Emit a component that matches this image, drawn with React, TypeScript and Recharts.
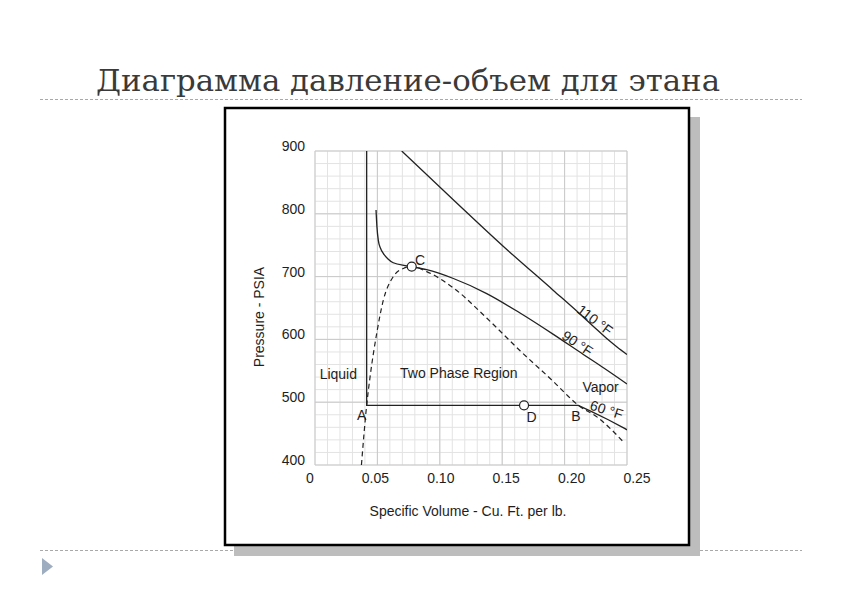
import { ComposedChart, Line, XAxis, YAxis, CartesianGrid, ReferenceLine, ReferenceDot } from 'recharts';

// axis ticks (minor grid every 0.01 / 20 psi, labels on the majors)
const xTicks = [0, 0.01, 0.02, 0.03, 0.04, 0.05, 0.06, 0.07, 0.08, 0.09, 0.1, 0.11, 0.12, 0.13, 0.14, 0.15, 0.16, 0.17, 0.18, 0.19, 0.2, 0.21, 0.22, 0.23, 0.24, 0.25];
const yTicks = [400, 420, 440, 460, 480, 500, 520, 540, 560, 580, 600, 620, 640, 660, 680, 700, 720, 740, 760, 780, 800, 820, 840, 860, 880, 900];
const xMajor = [0, 0.05, 0.1, 0.15, 0.2, 0.25];
const xMajorText = ['0', '0.05', '0.10', '0.15', '0.20', '0.25'];
const yMajor = [400, 500, 600, 700, 800, 900];

// 60 °F isotherm: liquid branch, A-B plateau, vapor branch
const iso60V = [0.0414, 0.0414, 0.211, 0.2217, 0.235, 0.2484, 0.25];
const iso60P = [900, 495, 495, 485, 472, 458, 456];

// 90 °F (critical) isotherm
const iso90V = [0.0489, 0.0496, 0.0507, 0.0525, 0.0547, 0.0585, 0.0627, 0.0735, 0.0895, 0.1109, 0.1376, 0.1643, 0.191, 0.215, 0.2317, 0.25];
const iso90P = [806, 780, 758, 745, 737, 728, 722, 717, 711, 697, 673, 642, 608, 576, 554, 529];

// 110 °F isotherm
const iso110V = [0.0695, 0.111, 0.151, 0.191, 0.212, 0.224, 0.234, 0.242, 0.25];
const iso110P = [900, 822, 748, 678, 641, 619, 601, 588, 576];

// saturation envelope (dashed)
const domeV = [0.0372, 0.0414, 0.0441, 0.0494, 0.0547, 0.0627, 0.0708, 0.0775, 0.0895, 0.1109, 0.1376, 0.1643, 0.191, 0.211, 0.227, 0.2377, 0.247];
const domeP = [400, 495, 540, 609, 662, 700, 713, 716, 708, 682, 634, 582, 533, 495, 475, 456, 437];

// open circles: C (critical point) and D
const markV = [0.0775, 0.1675];
const markP = [716, 495];

const annotations = [
  { text: 'C', v: 0.0841, p: 727, angle: 0 },
  { text: 'A', v: 0.0374, p: 480, angle: 0 },
  { text: 'D', v: 0.1736, p: 477, angle: 0 },
  { text: 'B', v: 0.2091, p: 478, angle: 0 },
  { text: 'Liquid', v: 0.0187, p: 545, angle: 0 },
  { text: 'Two Phase Region', v: 0.1152, p: 546, angle: 0 },
  { text: 'Vapor', v: 0.2288, p: 524, angle: 0 },
  { text: '110 °F', v: 0.2244, p: 631, angle: 37 },
  { text: '90 °F', v: 0.2103, p: 594, angle: 34 },
  { text: '60 °F', v: 0.2337, p: 488, angle: 18 },
];

const zip = (vs: number[], ps: number[]) => vs.map((v, i) => ({ v, p: ps[i] }));

const FONT = '"Liberation Sans", Arial, Helvetica, sans-serif';
const INK = '#1e1e1e';

const XTick = ({ x, y, payload }: any) => {
  const i = xMajor.findIndex(m => Math.abs(m - payload.value) < 1e-9);
  if (i < 0) return <g />;
  return (
    <text x={x - 5 + 60 * payload.value} y={y + 10} textAnchor="middle" fontSize={14} fontFamily={FONT} fill={INK}>
      {xMajorText[i]}
    </text>
  );
};

const YTick = ({ x, y, payload }: any) => {
  if (!yMajor.includes(payload.value)) return <g />;
  return (
    <text x={x} y={y} textAnchor="end" fontSize={14} fontFamily={FONT} fill={INK}>
      {payload.value}
    </text>
  );
};

export default function App() {
  return (
    <div style={{ position: 'absolute', left: 0, top: 0, width: 842, height: 595, background: '#fff' }}>
      <svg width={842} height={595} style={{ position: 'absolute', left: 0, top: 0 }}>
        <text x={96} y={91} fontFamily='"DejaVu Serif", serif' fontSize={30} fill="#3a3a3a"
          textLength={624} lengthAdjust="spacingAndGlyphs">
          Диаграмма давление-объем для этана
        </text>
        <line x1={40} x2={802} y1={99.5} y2={99.5} stroke="#a9a9a9" strokeDasharray="3 2" />
        <line x1={40} x2={802} y1={550.5} y2={550.5} stroke="#a9a9a9" strokeDasharray="3 2" />
        <polygon points="42,558 53,566.5 42,575" fill="#9eadc0" />
        <rect x={234} y={117} width={466} height={439} fill="#bdbdbd" />
        <rect x={225} y={108} width={464} height={437} fill="#fff" stroke="#000" strokeWidth={2.5} />
      </svg>
      <div style={{ position: 'absolute', left: 0, top: 0 }}>
        <ComposedChart width={842} height={595} margin={{ top: 151, right: 215, bottom: 70, left: 255 }}>
          <CartesianGrid stroke="#e3e3e3" strokeWidth={1} />
          {xMajor.map(m => (
            <ReferenceLine key={'x' + m} x={m} stroke="#c9c9c9" />
          ))}
          {yMajor.map(m => (
            <ReferenceLine key={'y' + m} y={m} stroke="#c9c9c9" />
          ))}
          <XAxis dataKey="v" type="number" domain={[0, 0.25]} ticks={xTicks} interval={0} allowDataOverflow
            axisLine={false} tickLine={false} tickSize={6} tickMargin={2} height={60} tick={<XTick />}
            label={{
              content: (props: any) => {
                const vb = props.viewBox;
                return (
                  <text x={vb.x + vb.width / 2 - 3} y={vb.y + 51} textAnchor="middle" fontSize={14} fontFamily={FONT} fill={INK}>
                    Specific Volume - Cu. Ft. per lb.
                  </text>
                );
              },
            }} />
          <YAxis dataKey="p" type="number" domain={[400, 900]} ticks={yTicks} interval={0} allowDataOverflow
            axisLine={false} tickLine={false} tickSize={6} tickMargin={4} width={60} tick={<YTick />}
            label={{
              content: (props: any) => {
                const vb = props.viewBox;
                const cx = vb.x + 9;
                const cy = vb.y + vb.height / 2 + 9;
                return (
                  <text transform={`translate(${cx}, ${cy}) rotate(-90)`} textAnchor="middle" fontSize={14} fontFamily={FONT} fill={INK}>
                    Pressure - PSIA
                  </text>
                );
              },
            }} />

          <Line data={zip(domeV, domeP)} dataKey="p" type="monotone" stroke="#222" strokeWidth={1.2}
            strokeDasharray="5 3.5" dot={false} isAnimationActive={false} />
          <Line data={zip(iso60V, iso60P)} dataKey="p" type="linear" stroke="#222" strokeWidth={1.3}
            dot={false} isAnimationActive={false} />
          <Line data={zip(iso90V, iso90P)} dataKey="p" type="monotone" stroke="#222" strokeWidth={1.3}
            dot={false} isAnimationActive={false} />
          <Line data={zip(iso110V, iso110P)} dataKey="p" type="monotone" stroke="#222" strokeWidth={1.3}
            dot={false} isAnimationActive={false} />

          {markV.map((v, i) => (
            <ReferenceDot key={'m' + i} x={v} y={markP[i]} r={4.5} fill="#fff" stroke="#222" strokeWidth={1.2} />
          ))}
          {annotations.map(n => (
            <ReferenceDot key={n.text} x={n.v} y={n.p} r={0}
              shape={(s: any) => (
                <text x={s.cx} y={s.cy} dy="0.36em" textAnchor="middle" fontSize={14} fontFamily={FONT} fill={INK}
                  transform={n.angle ? `rotate(${n.angle} ${s.cx} ${s.cy})` : undefined}>
                  {n.text}
                </text>
              )} />
          ))}
        </ComposedChart>
      </div>
    </div>
  );
}
